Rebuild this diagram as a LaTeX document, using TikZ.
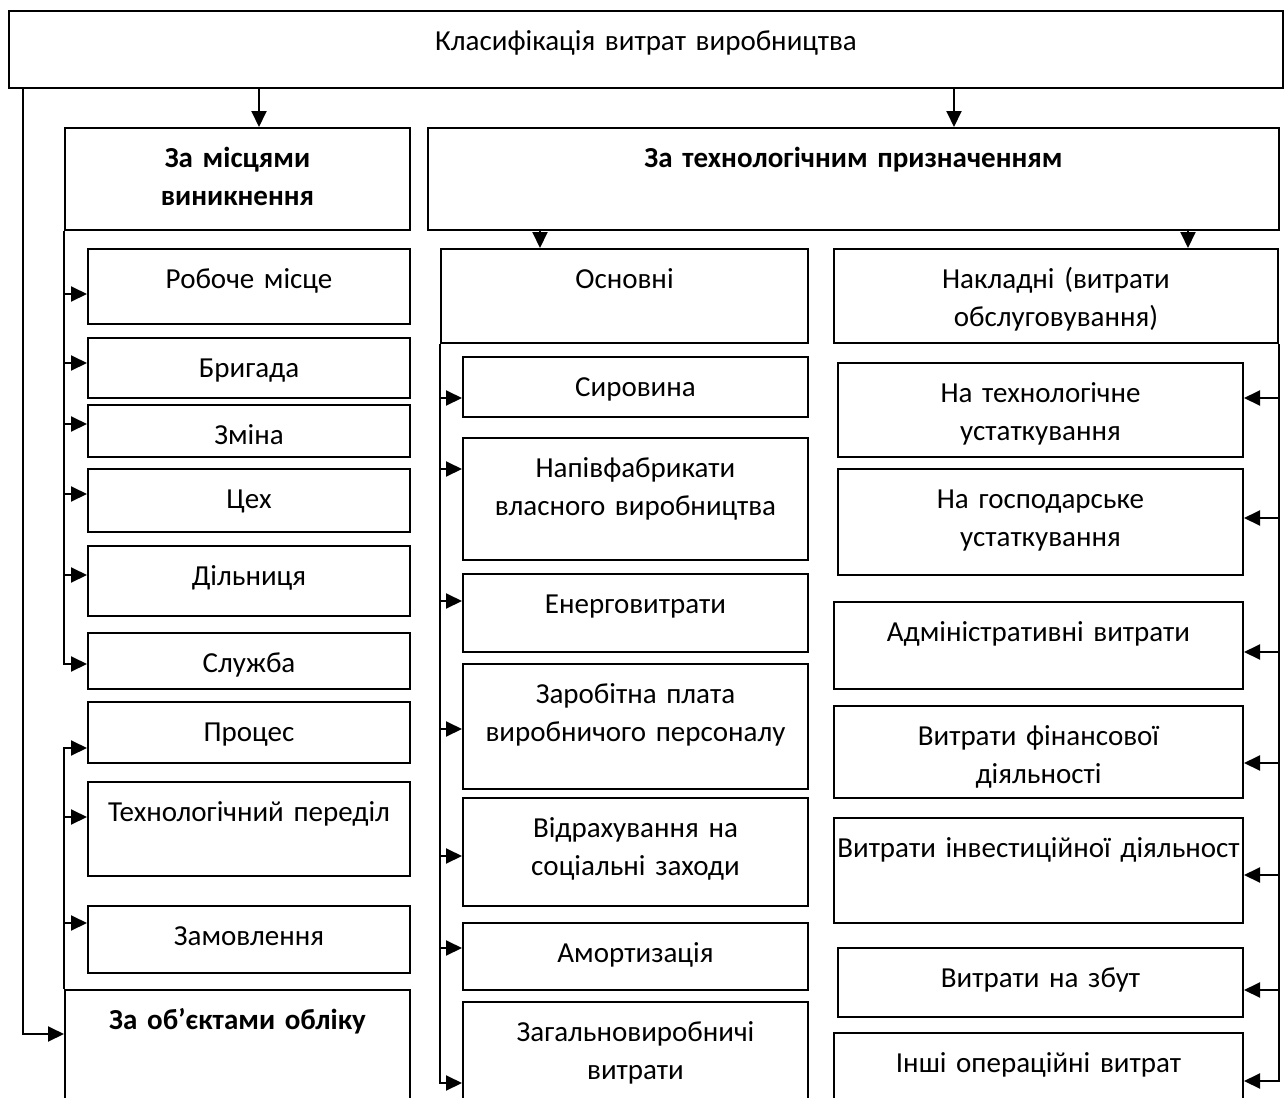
\documentclass[tikz,border=0pt]{standalone}
\usepackage{fontspec}
\setmainfont{Carlito}
\usetikzlibrary{arrows.meta}

\begin{document}
\begin{tikzpicture}[x=0.5pt, y=-0.5pt, line width=1pt, >={Triangle[length=8pt,width=7.5pt]},
		font=\fontsize{14.5}{19.3}\selectfont,
		cell/.style={draw, inner sep=0pt, anchor=north west, execute at begin node=\centering, text height=19.65pt},
		lcell/.style={cell, text width=161pt},
		mcell/.style={cell, text width=172.5pt},
		rcell/.style={cell, text width=204.5pt}]
		\clip (0,0) rectangle (1287,1098);
		\node[cell, text width=637pt, text depth=18.85pt] (Class) at (8,10) {Класифікація витрат виробництва};
		\node[cell, text width=172.5pt, text depth=31.35pt] (ByPlace) at (64,127) {\bfseries За місцями\\виникнення};
		\node[cell, text width=425.5pt, text depth=31.35pt] (ByTech) at (427,127) {\bfseries За технологічним призначенням};
		\draw[<-] ([xshift=10.75pt]ByPlace.north) -- +(0,20pt);
		\draw[<-] ([xshift=50.25pt]ByTech.north) -- +(0,20pt);
		\node[lcell, text depth=17.85pt] (Workplace) at (87,248) {Робоче місце};
		\node[lcell, text depth=10.35pt] (Brigade) at (87,337) {Бригада};
		\node[lcell, text depth=6.35pt] (Shift) at (87,404) {Зміна};
		\node[lcell, text depth=11.85pt] (Shop) at (87,468) {Цех};
		\node[lcell, text depth=15.35pt] (Section) at (87,545) {Дільниця};
		\node[lcell, text depth=8.35pt] (Service) at (87,632) {Служба};
		\node[lcell, text depth=10.85pt] (Process) at (87,701) {Процес};
		\node[lcell, text depth=27.35pt] (Stage) at (87,781) {Технологічний переділ};
		\node[lcell, text depth=13.85pt] (Order) at (87,905) {Замовлення};
		\node[cell, text width=172.5pt, text depth=45.85pt] (ByObject) at (64,989) {\bfseries За об’єктами обліку};
		\draw[->] ([xshift=7.5pt]Class.south west) |- ([yshift=10.75pt]ByObject.west);
		\draw[->] (ByPlace.south west) |- ([yshift=-1.5pt]Service.west);
		\draw[<-] ([yshift=-3.75pt]Workplace.west) -- +(-11.5pt,0);
		\draw[<-] ([yshift=2.5pt]Brigade.west) -- +(-11.5pt,0);
		\draw[<-] ([yshift=3.5pt]Shift.west) -- +(-11.5pt,0);
		\draw[<-] ([yshift=3.25pt]Shop.west) -- +(-11.5pt,0);
		\draw[<-] ([yshift=3pt]Section.west) -- +(-11.5pt,0);
		\draw[->] (ByObject.north west) |- ([yshift=-7.75pt]Process.west);
		\draw[<-] ([yshift=6pt]Stage.west) -- +(-11.5pt,0);
		\draw[<-] ([yshift=8.25pt]Order.west) -- +(-11.5pt,0);
		\node[cell, text width=183.5pt, text depth=27.35pt] (Basic) at (440,248) {Основні};
		\draw[<-] ([xshift=-42.25pt]Basic.north) -- +(0,9.5pt);
		\node[mcell, text depth=10.35pt] (RawMat) at (462,356) {Сировина};
		\node[mcell, text depth=41.35pt] (SemiFab) at (462,437) {Напівфабрикати\\власного виробництва};
		\node[mcell, text depth=19.35pt] (Energy) at (462,573) {Енерговитрати};
		\node[mcell, text depth=42.85pt] (Wages) at (462,663) {Заробітна плата\\виробничого персоналу};
		\node[mcell, text depth=34.35pt] (Social) at (462,797) {Відрахування на\\соціальні заходи};
		\node[mcell, text depth=13.85pt] (Deprec) at (462,922) {Амортизація};
		\node[mcell, text depth=40.35pt] (GenProd) at (462,1001) {Загальновиробничі\\витрати};
		\draw[->] (Basic.south west) |- ([yshift=-10.5pt]GenProd.west);
		\draw[<-] ([yshift=-5.5pt]RawMat.west) -- +(-11pt,0);
		\draw[<-] ([yshift=15pt]SemiFab.west) -- +(-11pt,0);
		\draw[<-] ([yshift=6pt]Energy.west) -- +(-11pt,0);
		\draw[<-] ([yshift=-1.25pt]Wages.west) -- +(-11pt,0);
		\draw[<-] ([yshift=-2pt]Social.west) -- +(-11pt,0);
		\draw[<-] ([yshift=4.25pt]Deprec.west) -- +(-11pt,0);
		\node[cell, text width=222pt, text depth=27.35pt] (Overhead) at (833,248) {Накладні (витрати\\обслуговування)};
		\draw[<-] ([xshift=66pt]Overhead.north) -- +(0,9.5pt);
		\node[rcell, text width=202.5pt, text depth=27.35pt] (TechEq) at (837,362) {На технологічне\\устаткування};
		\node[rcell, text width=202.5pt, text depth=33.35pt] (HouseEq) at (837,468) {На господарське\\устаткування};
		\node[rcell, text depth=23.85pt] (Admin) at (833,601) {Адміністративні витрати};
		\node[rcell, text depth=26.35pt] (Finance) at (833,705) {Витрати фінансової\\діяльності};
		\node[rcell, text depth=32.85pt] (Invest) at (833,817) {Витрати інвестиційної діяльност};
		\node[rcell, text width=202.5pt, text depth=14.85pt] (Sales) at (837,947) {Витрати на збут};
		\node[rcell, text depth=25.35pt] (OtherOp) at (833,1032) {Інші операційні витрат};
		\draw[->] (Overhead.south east) |- ([yshift=-1.5pt]OtherOp.east);
		\draw[<-] ([yshift=6pt]TechEq.east) -- +(18pt,0);
		\draw[<-] ([yshift=2pt]HouseEq.east) -- +(18pt,0);
		\draw[<-] ([yshift=-3.25pt]Admin.east) -- +(18pt,0);
		\draw[<-] ([yshift=-5.5pt]Finance.east) -- +(18pt,0);
		\draw[<-] ([yshift=-2.25pt]Invest.east) -- +(18pt,0);
		\draw[<-] ([yshift=-3.75pt]Sales.east) -- +(18pt,0);
	\end{tikzpicture}
\end{document}
